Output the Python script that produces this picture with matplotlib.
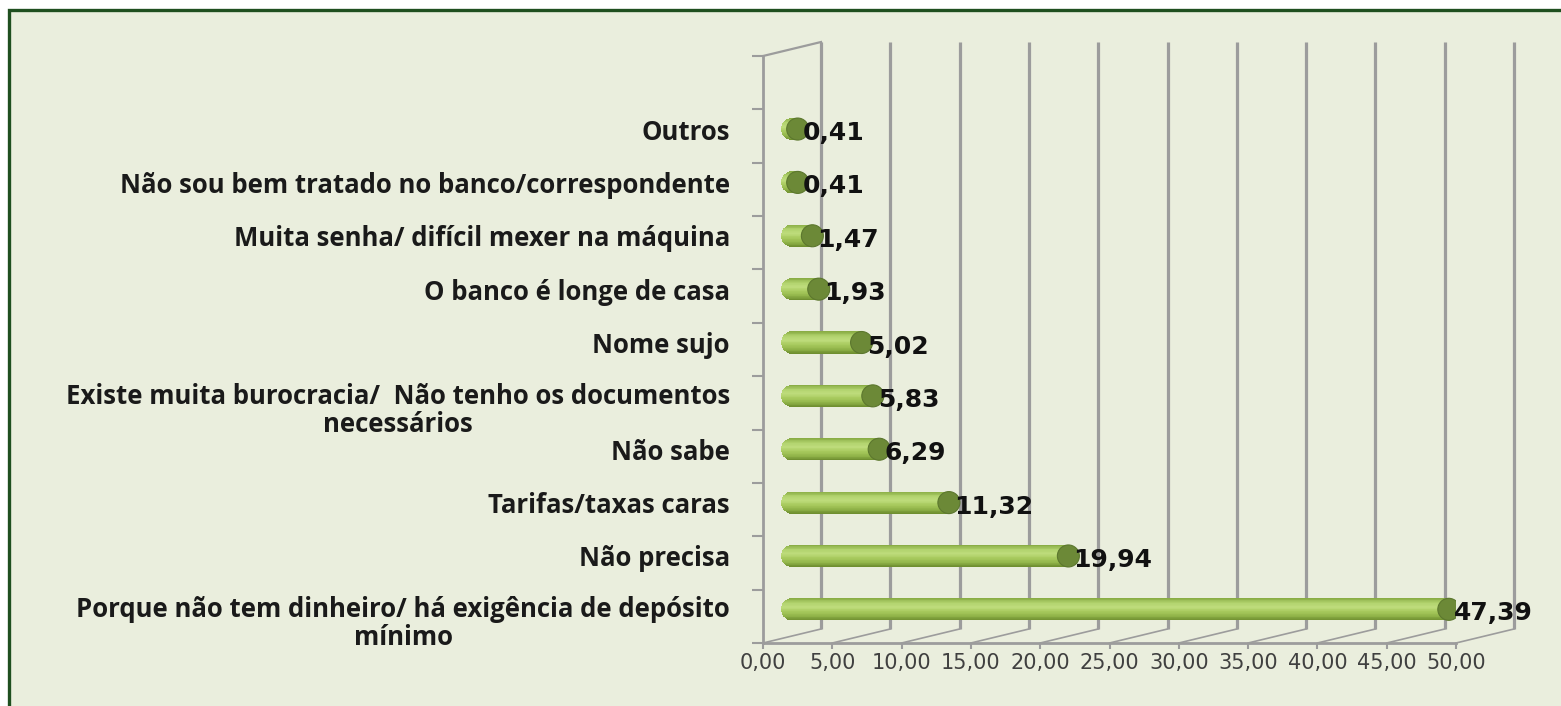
import numpy as np
import matplotlib
matplotlib.use("Agg")
import matplotlib.pyplot as plt
from matplotlib.patches import Ellipse, Rectangle
from matplotlib.colors import LinearSegmentedColormap
from matplotlib.transforms import offset_copy

# data, top to bottom as in the chart
categories = [
    "Outros",
    "Não sou bem tratado no banco/correspondente",
    "Muita senha/ difícil mexer na máquina",
    "O banco é longe de casa",
    "Nome sujo",
    "Existe muita burocracia/  Não tenho os documentos\nnecessários",
    "Não sabe",
    "Tarifas/taxas caras",
    "Não precisa",
    "Porque não tem dinheiro/ há exigência de depósito\nmínimo",
]
values = [0.41, 0.41, 1.47, 1.93, 5.02, 5.83, 6.29, 11.32, 19.94, 47.39]
x_ticks = [0, 5, 10, 15, 20, 25, 30, 35, 40, 45, 50]
n_slots = 11  # one empty slot on top

BG = "#EAEEDD"
GRID = "#9C9C9C"

fig = plt.figure(figsize=(15.61, 7.06), dpi=100, facecolor="white")
border = Rectangle((9 / 1561, -0.02), 1.02, 1.02 - 10 / 706,
                   transform=fig.transFigure, facecolor=BG,
                   edgecolor="#1F4F1F", linewidth=2.4, zorder=-10)
fig.patches.append(border)

ax = fig.add_axes([763 / 1561, 63 / 706, 693 / 1561, 587 / 706])
ax.set_xlim(0, 50)
ax.set_ylim(0, n_slots)
ax.patch.set_alpha(0)

px_x = 693 / 50.0
px_y = 587 / n_slots
DX = 58 / px_x        # depth shift in data units
DY = 14 / px_y

# walls and floor
for t in x_ticks:
    ax.plot([t + DX, t + DX], [DY, n_slots + DY], color=GRID, lw=2.3,
            clip_on=False, zorder=1, solid_capstyle="butt")
    ax.plot([t, t + DX], [0, DY], color=GRID, lw=1.2, clip_on=False, zorder=1)
ax.plot([0, DX], [n_slots, n_slots + DY], color=GRID, lw=1.6, clip_on=False, zorder=1)

for s in ["top", "right"]:
    ax.spines[s].set_visible(False)
for s in ["left", "bottom"]:
    ax.spines[s].set_color(GRID)
    ax.spines[s].set_linewidth(2.0)

ax.set_yticks(range(n_slots + 1))
ax.set_yticklabels([])
ax.tick_params(axis="y", length=8, width=1.5, color=GRID)
ax.set_xticks(x_ticks)
ax.set_xticklabels([f"{t:.2f}".replace(".", ",") for t in x_ticks],
                   fontsize=15, color="#404040")
ax.tick_params(axis="x", length=4, width=1.5, color=GRID, pad=3)

# cylinder bars
cmap = LinearSegmentedColormap.from_list(
    "cyl", ["#8AAD45", "#B2D36E", "#BEDC7C", "#A8CA5E", "#93B64B", "#6F8F30"])
bar_h = 22 / px_y
cap_a = 11 / px_x
n_strip = 30
x0 = DX / 2
n = len(categories)
lab_tr = offset_copy(ax.transData, fig=fig, x=-33, y=0, units="dots")
lab_tr2 = offset_copy(ax.transData, fig=fig, x=-33, y=13, units="dots")
val_tr = offset_copy(ax.transData, fig=fig, x=5, y=-4, units="dots")

for k, (cat, v) in enumerate(zip(categories, values)):
    yb = (n - 1 - k) + 0.5 + DY / 2
    x1 = v + x0
    tc = np.linspace(1, -1, n_strip + 1)
    for j in range(n_strip):
        t = 0.5 * (tc[j] + tc[j + 1])
        left = x0 - cap_a * np.sqrt(max(0.0, 1 - t * t))
        ymid = yb + t * bar_h / 2
        ax.barh(ymid, x1 - left, left=left, height=bar_h / n_strip * 1.05,
                color=cmap(j / (n_strip - 1)), linewidth=0, zorder=3)
    ax.add_patch(Ellipse((x1, yb), 2 * cap_a, bar_h, facecolor="#6C8937",
                         edgecolor="#5C772E", linewidth=0.8, zorder=4))
    ax.text(x1, yb, f"{v:.2f}".replace(".", ","), transform=val_tr,
            ha="left", va="center", fontsize=18, fontweight="bold",
            color="#111111", zorder=5)
    # first line of each label sits level with its bar
    multi = "\n" in cat
    ax.text(0, yb, cat, transform=lab_tr2 if multi else lab_tr, ha="right",
            va="top" if multi else "center_baseline", multialignment="center",
            fontsize=18.5, fontweight="bold", family="Open Sans",
            color="#1a1a1a", linespacing=1.05)

fig.savefig("out.png", dpi=100, facecolor=fig.get_facecolor())
